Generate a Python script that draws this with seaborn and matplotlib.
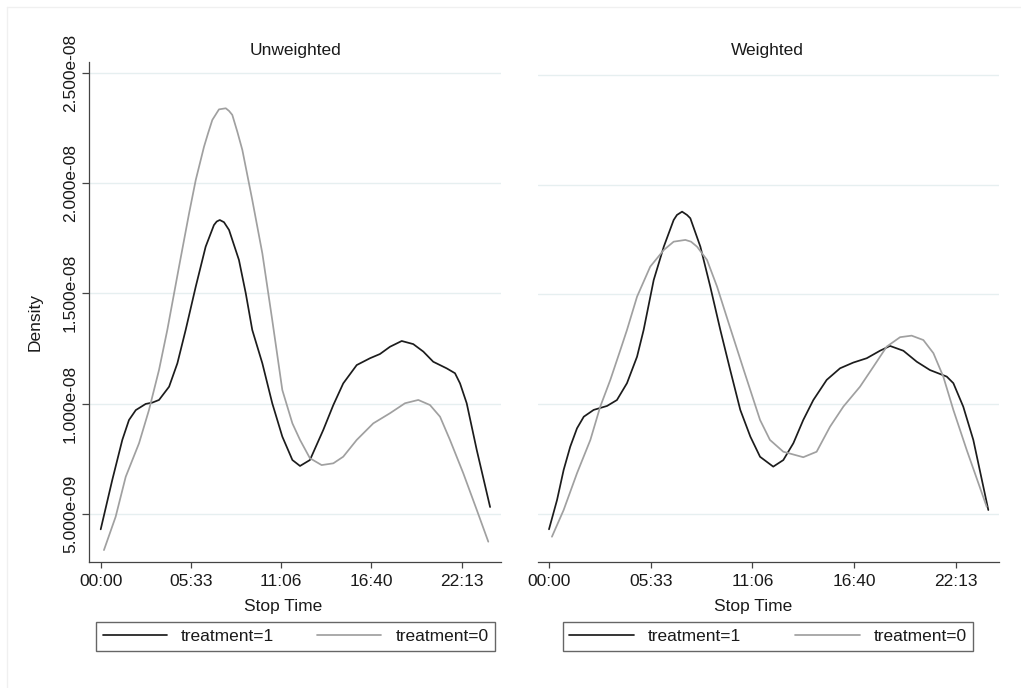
import matplotlib
matplotlib.use("Agg")
import numpy as np
import pandas as pd
import matplotlib.pyplot as plt
import seaborn as sns
from matplotlib.lines import Line2D

# stop time in hours, density in units of 1e-8
unw_t1_hours = [0.0, 0.71, 1.33, 1.74, 2.16, 2.77, 3.18, 3.59, 4.21, 4.72, 5.23, 5.85, 6.46, 6.97,
                7.14, 7.33, 7.59, 7.90, 8.51, 8.93, 9.33, 9.95, 10.56, 11.18, 11.80, 12.27, 12.88,
                13.70, 14.32, 14.93, 15.76, 16.58, 17.19, 17.81, 18.53, 19.24, 19.86, 20.47, 21.30,
                21.81, 22.12, 22.53, 23.15, 23.97]
unw_t1_dens = [0.431, 0.654, 0.836, 0.926, 0.971, 0.999, 1.005, 1.017, 1.077, 1.183, 1.334, 1.530,
               1.711, 1.809, 1.825, 1.832, 1.822, 1.787, 1.651, 1.500, 1.334, 1.183, 1.002, 0.851,
               0.745, 0.718, 0.745, 0.881, 0.994, 1.092, 1.175, 1.206, 1.225, 1.258, 1.284, 1.270,
               1.236, 1.190, 1.160, 1.138, 1.092, 1.002, 0.790, 0.532]

unw_t0_hours = [0.20, 0.92, 1.54, 2.36, 2.97, 3.59, 4.10, 4.82, 5.44, 5.85, 6.36, 6.61, 6.87, 7.28,
                7.70, 7.90, 8.10, 8.41, 8.72, 9.33, 9.95, 10.56, 11.18, 11.80, 12.27, 12.88, 13.60,
                14.32, 14.93, 15.76, 16.78, 17.81, 18.73, 19.55, 20.27, 20.89, 21.50, 22.32, 23.15,
                23.86]
unw_t0_dens = [0.337, 0.488, 0.669, 0.821, 0.971, 1.153, 1.334, 1.620, 1.862, 2.013, 2.164, 2.225,
               2.285, 2.333, 2.338, 2.326, 2.308, 2.232, 2.149, 1.923, 1.681, 1.379, 1.062, 0.911,
               0.836, 0.753, 0.722, 0.730, 0.760, 0.836, 0.911, 0.957, 1.002, 1.017, 0.994, 0.941,
               0.836, 0.685, 0.519, 0.375]

wt_t1_hours = [0.0, 0.44, 0.80, 1.16, 1.53, 1.90, 2.44, 3.17, 3.71, 4.26, 4.81, 5.17, 5.72, 6.27,
               6.81, 6.99, 7.27, 7.54, 7.72, 8.27, 8.81, 9.36, 9.90, 10.45, 11.00, 11.53, 12.25,
               12.80, 13.35, 13.89, 14.44, 15.17, 15.90, 16.62, 17.36, 18.08, 18.63, 19.36, 20.09,
               20.81, 21.73, 22.09, 22.63, 23.18, 24.0]
wt_t1_dens = [0.428, 0.562, 0.699, 0.805, 0.889, 0.942, 0.973, 0.991, 1.018, 1.095, 1.216, 1.338,
              1.566, 1.718, 1.840, 1.863, 1.878, 1.863, 1.848, 1.718, 1.536, 1.338, 1.155, 0.973,
              0.851, 0.759, 0.714, 0.744, 0.821, 0.927, 1.018, 1.110, 1.163, 1.189, 1.209, 1.243,
              1.265, 1.243, 1.193, 1.155, 1.125, 1.095, 0.988, 0.836, 0.516]

wt_t0_hours = [0.16, 0.80, 1.53, 2.26, 2.80, 3.35, 3.90, 4.26, 4.81, 5.53, 6.27, 6.81, 7.45, 7.76,
               8.09, 8.63, 9.18, 9.82, 10.64, 11.53, 12.07, 12.80, 13.89, 14.62, 15.35, 16.08,
               16.99, 17.72, 18.45, 19.18, 19.81, 20.45, 21.0, 21.54, 22.09, 22.82, 23.91]
wt_t0_dens = [0.394, 0.516, 0.684, 0.836, 0.988, 1.110, 1.247, 1.338, 1.490, 1.627, 1.703, 1.741,
              1.749, 1.741, 1.718, 1.658, 1.536, 1.368, 1.155, 0.927, 0.836, 0.782, 0.757, 0.782,
              0.896, 0.988, 1.079, 1.170, 1.262, 1.305, 1.312, 1.292, 1.232, 1.125, 0.973, 0.790,
              0.531]

panels = ["Unweighted", "Weighted"]
groups = ["treatment=1", "treatment=0"]
xticks_ms = [0, 2e7, 4e7, 6e7, 8e7]
xtick_labels = ["00:00", "05:33", "11:06", "16:40", "22:13"]
yticks = [5e-9, 1e-8, 1.5e-8, 2e-8, 2.5e-8]
ytick_labels = ["5.000e-09", "1.000e-08", "1.500e-08", "2.000e-08", "2.500e-08"]

series = {
    ("Unweighted", "treatment=1"): (unw_t1_hours, unw_t1_dens),
    ("Unweighted", "treatment=0"): (unw_t0_hours, unw_t0_dens),
    ("Weighted", "treatment=1"): (wt_t1_hours, wt_t1_dens),
    ("Weighted", "treatment=0"): (wt_t0_hours, wt_t0_dens),
}
frames = []
for (p, g), (h, d) in series.items():
    frames.append(pd.DataFrame({"panel": p, "group": g,
                                "stop_ms": np.array(h) * 3.6e6,
                                "density": np.array(d) * 1e-8}))
df = pd.concat(frames, ignore_index=True)

sns.set_style("white")
plt.rcParams["font.family"] = ["Liberation Sans", "DejaVu Sans"]
FS = 12.5
TXT = "#1a1a1a"
AXC = "#444444"
palette = {"treatment=1": "#1c1c1c", "treatment=0": "#a0a0a0"}

W, H = 1021, 688
fig = plt.figure(figsize=(W / 100, H / 100), dpi=100)

def fx(px):
    return px / W

def fy(py):
    return (H - py) / H

# axes boxes in pixels: left, top, right, bottom
boxes = {"Unweighted": (89, 62, 501, 561.7), "Weighted": (537.7, 66, 999, 561.7)}
xlims = {"Unweighted": (-2.593e6, 8.871e7), "Weighted": (-2.222e6, 8.85e7)}
ylims = {"Unweighted": (2.844e-9, 2.5476e-8), "Weighted": (2.80e-9, 2.543e-8)}
title_x = {"Unweighted": 295.5, "Weighted": 767.5}
xlabel_x = {"Unweighted": 283, "Weighted": 752.7}
legend_box = {"Unweighted": (96.3, 620, 495, 652.7), "Weighted": (562.7, 620, 973.3, 652.7)}

for p in panels:
    l, t, r, b = boxes[p]
    ax = fig.add_axes([fx(l), fy(b), (r - l) / W, (b - t) / H])
    sub = df[df["panel"] == p]
    sns.lineplot(data=sub, x="stop_ms", y="density", hue="group", hue_order=groups,
                 palette=palette, estimator=None, sort=False, linewidth=1.25,
                 legend=False, ax=ax)
    ax.set_xlim(*xlims[p])
    ax.set_ylim(*ylims[p])
    ax.set_xticks(xticks_ms)
    ax.set_xticklabels(xtick_labels, fontsize=FS, color=TXT)
    ax.set_yticks(yticks)
    ax.set_xlabel("")
    ax.set_ylabel("")
    ax.grid(axis="y", color="#e6eff0", linewidth=1.0)
    ax.grid(axis="x", visible=False)
    ax.set_axisbelow(True)
    for s in ["top", "right"]:
        ax.spines[s].set_visible(False)
    ax.spines["bottom"].set_color(AXC)
    ax.spines["bottom"].set_linewidth(0.9)
    ax.tick_params(axis="x", direction="out", length=4.5, width=0.9, color=AXC, pad=4, bottom=True)
    if p == "Unweighted":
        ax.spines["left"].set_color(AXC)
        ax.spines["left"].set_linewidth(0.9)
        ax.set_yticklabels(ytick_labels, fontsize=FS, color=TXT, rotation=90, va="center")
        ax.tick_params(axis="y", direction="out", length=5, width=0.9, color=AXC, pad=3, left=True)
    else:
        ax.spines["left"].set_visible(False)
        ax.tick_params(axis="y", left=False, labelleft=False)

    fig.text(fx(title_x[p]), fy(51), p, ha="center", va="center", fontsize=FS, color=TXT)
    fig.text(fx(xlabel_x[p]), fy(606), "Stop Time", ha="center", va="center", fontsize=FS, color=TXT)

    handles = [Line2D([], [], color=palette[g], linewidth=1.25) for g in groups]
    lx0, ly0, lx1, ly1 = legend_box[p]
    leg = fig.legend(handles, groups, loc="center", ncol=2, mode="expand",
                     bbox_to_anchor=(fx(lx0), fy(ly1), (lx1 - lx0) / W, (ly1 - ly0) / H),
                     bbox_transform=fig.transFigure, borderaxespad=0, frameon=True,
                     fancybox=False, edgecolor="#404040", fontsize=FS,
                     handlelength=3.7, handletextpad=0.8, borderpad=0.38)
    leg.get_frame().set_linewidth(1.0)
    for txt in leg.get_texts():
        txt.set_color(TXT)

fig.text(fx(35), fy(322), "Density", rotation=90, ha="center", va="center", fontsize=FS, color=TXT)

# faint outer frame of the graph region
fig.add_artist(Line2D([fx(7), fx(1021)], [fy(7), fy(7)], color="#f0f0f0", linewidth=1.0))
fig.add_artist(Line2D([fx(7), fx(7)], [fy(7), fy(688)], color="#f0f0f0", linewidth=1.0))

fig.savefig("out.png", dpi=100, facecolor="white")
